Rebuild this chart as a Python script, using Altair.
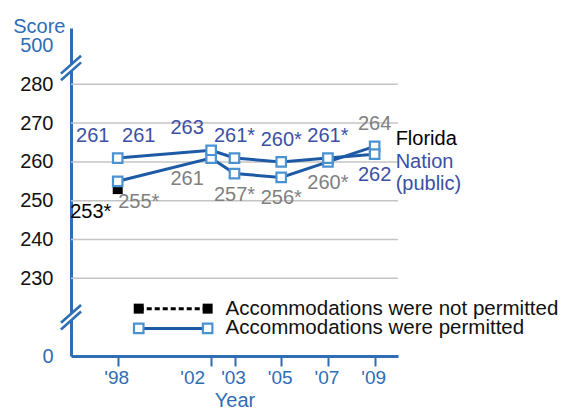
import altair as alt
import pandas as pd

# ---------------- data ----------------
years = [1998, 2002, 2003, 2005, 2007, 2009]
florida = [255, 261, 257, 256, 260, 264]
florida_sig = [True, False, True, True, True, False]
nation = [261, 263, 261, 260, 261, 262]
nation_sig = [False, False, True, True, True, False]

np_years = [1998]                 # accommodations not permitted
florida_np = [253]
florida_np_sig = [True]
nation_np = [261]
nation_np_sig = [False]

x_ticks = [1998, 2002, 2003, 2005, 2007, 2009]
y_ticks = [0, 230, 240, 250, 260, 270, 280, 500]
grid_values = [230, 240, 250, 260, 270, 280]
legend_labels = ["Accommodations were not permitted", "Accommodations were permitted"]
series_names = ["Florida", "Nation", "(public)"]

# ---------------- styling / layout ----------------
FONT = "Liberation Sans"
AXIS_BLUE = "#2f6db5"
LINE_BLUE = "#1d5aa6"
MARK_BLUE = "#4a92d2"
NATION_TEXT = "#3b4fa5"
GRAY = "#808080"
GRID = "#c4c4c4"

# broken axis: 0 and 500 are drawn at these positions of the display scale
BREAK_MAP = {0: 210.0, 500: 290.0}
Y_DOMAIN = [210.0, 294.5]
X_DOMAIN = [1996, 2010]
BREAKS = [284.2, 220.0]


def disp(v):
    return BREAK_MAP.get(v, v)


def shift(year, permitted=True):
    if year == 1998:
        return 21 if permitted else -25
    if year == 2002:
        return -24
    return 0


ABOVE, BELOW = -22, 21

# ---------------- tables ----------------
line_rows, lab_rows = [], []
for i, yr in enumerate(years):
    f, n = florida[i], nation[i]
    f_above = f > n
    line_rows.append({"series": "Florida", "year": yr, "v": f})
    line_rows.append({"series": "Nation", "year": yr, "v": n})
    lab_rows.append({"year": yr, "v": f, "text": f"{f}{'*' if florida_sig[i] else ''}",
                     "color": GRAY, "dx": shift(yr), "dy": ABOVE if f_above else BELOW})
    lab_rows.append({"year": yr, "v": n, "text": f"{n}{'*' if nation_sig[i] else ''}",
                     "color": NATION_TEXT, "dx": shift(yr), "dy": BELOW if f_above else ABOVE})
lines_df = pd.DataFrame(line_rows)

np_rows = []
for i, yr in enumerate(np_years):
    np_rows.append({"year": yr, "v": florida_np[i]})
    np_rows.append({"year": yr, "v": nation_np[i]})
    lab_rows.append({"year": yr, "v": florida_np[i],
                     "text": f"{florida_np[i]}{'*' if florida_np_sig[i] else ''}",
                     "color": "black", "dx": shift(yr, False) - 2, "dy": BELOW + 2})
    lab_rows.append({"year": yr, "v": nation_np[i],
                     "text": f"{nation_np[i]}{'*' if nation_np_sig[i] else ''}",
                     "color": NATION_TEXT, "dx": shift(yr, False), "dy": ABOVE})
np_df = pd.DataFrame(np_rows)
lab_df = pd.DataFrame(lab_rows)

last = len(years) - 1
end_df = pd.DataFrame([
    {"year": years[last], "v": florida[last], "text": series_names[0], "color": "black", "dy": -7},
    {"year": years[last], "v": nation[last], "text": series_names[1], "color": NATION_TEXT, "dy": 8},
    {"year": years[last], "v": nation[last], "text": series_names[2], "color": NATION_TEXT, "dy": 30},
])

grid_df = pd.DataFrame({"v": grid_values})

# legend (drawn inside the plot, in scale units)
LEG_X0, LEG_X1, LEG_TX = 1998.9, 2001.85, 2002.62
LEG_ROWS = [222.2, 217.1]
leg_np = pd.DataFrame({"year": [LEG_X0], "year2": [LEG_X1], "v": [LEG_ROWS[0]]})
leg_p = pd.DataFrame({"year": [LEG_X0], "year2": [LEG_X1], "v": [LEG_ROWS[1]]})
leg_np_pts = pd.DataFrame({"year": [LEG_X0, LEG_X1], "v": [LEG_ROWS[0]] * 2})
leg_p_pts = pd.DataFrame({"year": [LEG_X0, LEG_X1], "v": [LEG_ROWS[1]] * 2})
leg_txt = pd.DataFrame({"year": [LEG_TX, LEG_TX], "v": LEG_ROWS, "text": legend_labels})

# axis-break marks
brk_rows, cover_rows = [], []
for c in BREAKS:
    for off in (-0.85, 0.85):
        brk_rows.append({"year": X_DOMAIN[0] - 0.43, "year2": X_DOMAIN[0] + 0.43,
                         "v": c - 2.3 + off, "v2": c + 2.3 + off})
    cover_rows.append({"year": X_DOMAIN[0] - 0.12, "year2": X_DOMAIN[0] + 0.12,
                       "v": c - 0.65, "v2": c + 0.65})
brk_df = pd.DataFrame(brk_rows)
cover_df = pd.DataFrame(cover_rows)

# ---------------- scales & axes ----------------
xs = alt.Scale(domain=X_DOMAIN, nice=False, zero=False)
ys = alt.Scale(domain=Y_DOMAIN, nice=False, zero=False)

y_tick_disp = [disp(v) for v in y_ticks]
edge_test = "datum.value < 220 || datum.value > 285"

x_axis = alt.Axis(
    values=x_ticks, title="Year", grid=False, labelOverlap=False, labelBound=False,
    labelExpr="\"'\" + substring(toString(datum.value), 2, 4)",
    labelOffset={"condition": {"test": "datum.value == 2002", "value": -19}, "value": -1.5},
    domainColor=AXIS_BLUE, domainWidth=3, tickColor=AXIS_BLUE, tickWidth=2,
    tickSize=10, labelColor=AXIS_BLUE, labelFont=FONT, labelFontSize=19,
    labelPadding=2, titleColor=AXIS_BLUE, titleFont=FONT, titleFontSize=20,
    titleFontWeight="normal", titlePadding=3,
)
y_axis = alt.Axis(
    values=y_tick_disp, title="Score", grid=False, ticks=False, labelOverlap=False,
    labelExpr="datum.value < 220 ? '0' : (datum.value > 285 ? '500' : datum.label)",
    labelColor={"condition": {"test": edge_test, "value": AXIS_BLUE}, "value": "#111111"},
    labelFont=FONT, labelFontSize=20, labelPadding=18,
    domainColor=AXIS_BLUE, domainWidth=3,
    titleAngle=0, titleAlign="right", titleBaseline="middle", titleX=-6, titleY=-2,
    titleColor=AXIS_BLUE, titleFont=FONT, titleFontSize=20, titleFontWeight="normal",
)


def X():
    return alt.X("year:Q", scale=xs, axis=x_axis, title="Year")


def Y():
    return alt.Y("v:Q", scale=ys, axis=y_axis, title="Score")


layers = []
layers.append(alt.Chart(grid_df).mark_rule(color=GRID, strokeWidth=1.5).encode(y=Y()))
layers.append(alt.Chart(lines_df).mark_line(color=LINE_BLUE, strokeWidth=3).encode(
    x=X(), y=Y(), detail="series:N"))
layers.append(alt.Chart(np_df).mark_square(size=100, color="black", opacity=1).encode(
    x=X(), y=Y()))
layers.append(alt.Chart(lines_df).mark_square(
    size=90, filled=True, fill="white", stroke=MARK_BLUE, strokeWidth=2.2, opacity=1
).encode(x=X(), y=Y()))

# value labels, grouped by their offset
for (dx, dy), g in lab_df.groupby(["dx", "dy"]):
    layers.append(alt.Chart(g).mark_text(
        font=FONT, fontSize=20, baseline="middle", dx=int(dx), dy=int(dy)
    ).encode(x=X(), y=Y(), text="text:N", color=alt.Color("color:N", scale=None)))

for dy, g in end_df.groupby("dy"):
    layers.append(alt.Chart(g).mark_text(
        font=FONT, fontSize=20, align="left", baseline="middle", dx=21, dy=int(dy)
    ).encode(x=X(), y=Y(), text="text:N", color=alt.Color("color:N", scale=None)))

# legend
layers.append(alt.Chart(leg_np).mark_rule(color="black", strokeWidth=3, strokeDash=[5, 3]).encode(
    x=X(), x2="year2:Q", y=Y()))
layers.append(alt.Chart(leg_p).mark_rule(color=LINE_BLUE, strokeWidth=3).encode(
    x=X(), x2="year2:Q", y=Y()))
layers.append(alt.Chart(leg_np_pts).mark_square(size=100, color="black", opacity=1).encode(
    x=X(), y=Y()))
layers.append(alt.Chart(leg_p_pts).mark_square(
    size=90, filled=True, fill="white", stroke=MARK_BLUE, strokeWidth=2.2, opacity=1
).encode(x=X(), y=Y()))
layers.append(alt.Chart(leg_txt).mark_text(
    font=FONT, fontSize=20.5, align="left", baseline="middle", color="#111111"
).encode(x=X(), y=Y(), text="text:N"))

# axis breaks
layers.append(alt.Chart(cover_df).mark_rule(color="white", strokeWidth=6).encode(
    x=X(), x2="year2:Q", y=Y(), y2="v2:Q"))
layers.append(alt.Chart(brk_df).mark_rule(color=AXIS_BLUE, strokeWidth=2.6).encode(
    x=X(), x2="year2:Q", y=Y(), y2="v2:Q"))

chart = alt.layer(*layers).properties(
    width=327, height=328,
    autosize=alt.AutoSizeParams(type="none"),
    padding={"left": 63, "top": 20, "right": 164, "bottom": 53},
).configure(font=FONT).configure_view(stroke="transparent", strokeWidth=0)

chart.save("out.html", embed_options={"renderer": "svg", "actions": False})
